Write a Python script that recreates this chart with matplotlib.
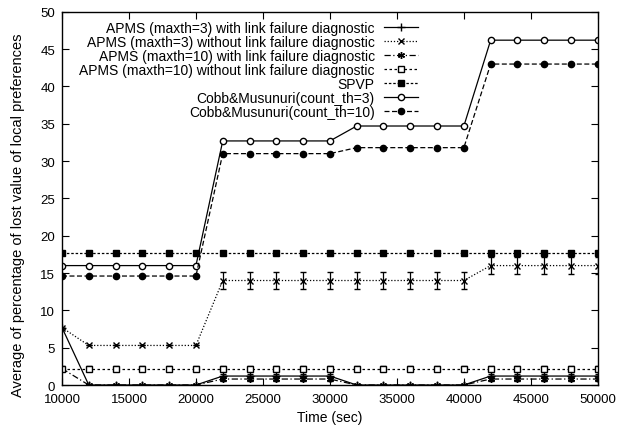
import matplotlib
matplotlib.use("Agg")
from matplotlib import pyplot as plt
from matplotlib.lines import Line2D

plt.rcParams['font.family'] = ['Liberation Sans', 'DejaVu Sans']

# time axis (sec)
times = [10000, 12000, 14000, 16000, 18000, 20000, 22000, 24000, 26000, 28000, 30000,
         32000, 34000, 36000, 38000, 40000, 42000, 44000, 46000, 48000, 50000]

apms3_with = [7.7, 0, 0, 0, 0, 0, 1.2, 1.2, 1.2, 1.2, 1.2,
              0, 0, 0, 0, 0, 1.2, 1.2, 1.2, 1.2, 1.2]
apms3_with_err = [0, 0, 0, 0, 0, 0, 0.3, 0.3, 0.3, 0.3, 0.3,
                  0, 0, 0, 0, 0, 0.3, 0.3, 0.3, 0.3, 0.3]
apms3_without = [7.7, 5.3, 5.3, 5.3, 5.3, 5.3, 14.0, 14.0, 14.0, 14.0, 14.0,
                 14.0, 14.0, 14.0, 14.0, 14.0, 16.0, 16.0, 16.0, 16.0, 16.0]
apms3_without_err = [0, 0, 0, 0, 0, 0, 1.1, 1.1, 1.1, 1.1, 1.1,
                     1.1, 1.1, 1.1, 1.1, 1.1, 1.1, 1.1, 1.1, 1.1, 1.1]
apms10_with = [2.2, 0, 0, 0, 0, 0, 0.8, 0.8, 0.8, 0.8, 0.8,
               0, 0, 0, 0, 0, 0.8, 0.8, 0.8, 0.8, 0.8]
apms10_with_err = [0, 0, 0, 0, 0, 0, 0.3, 0.3, 0.3, 0.3, 0.3,
                   0, 0, 0, 0, 0, 0.3, 0.3, 0.3, 0.3, 0.3]
apms10_without = [2.2] * 21
apms10_without_err = [0.3] * 21
spvp = [17.7] * 21
cobb3 = [16.0, 16.0, 16.0, 16.0, 16.0, 16.0, 32.7, 32.7, 32.7, 32.7, 32.7,
         34.7, 34.7, 34.7, 34.7, 34.7, 46.2, 46.2, 46.2, 46.2, 46.2]
cobb10 = [14.6, 14.6, 14.6, 14.6, 14.6, 14.6, 31.0, 31.0, 31.0, 31.0, 31.0,
          31.8, 31.8, 31.8, 31.8, 31.8, 43.0, 43.0, 43.0, 43.0, 43.0]

labels = ["APMS (maxth=3) with link failure diagnostic",
          "APMS (maxth=3) without link failure diagnostic",
          "APMS (maxth=10) with link failure diagnostic",
          "APMS (maxth=10) without link failure diagnostic",
          "SPVP",
          "Cobb&Musunuri(count_th=3)",
          "Cobb&Musunuri(count_th=10)"]

fig = plt.figure(figsize=(6.26, 4.27), dpi=100)
ax = fig.add_axes([0.099, 0.096, 0.856, 0.874])

lw = 0.9
# (y, err, linestyle, marker, size, facecolor)
series = [
    (apms3_with, apms3_with_err, '-', '+', 6, 'black'),
    (apms3_without, apms3_without_err, (0, (1, 1.5)), 'x', 4.5, 'black'),
    (apms10_with, apms10_with_err, (0, (5, 2, 1, 2)), (6, 2, 0), 5, 'black'),
    (apms10_without, apms10_without_err, (0, (2, 2)), 's', 4.5, 'white'),
    (spvp, None, (0, (2, 1.5)), 's', 5, 'black'),
    (cobb3, None, '-', 'o', 4.5, 'white'),
    (cobb10, None, (0, (4, 2)), 'o', 4.5, 'black'),
]

handles = []
for (ys, err, ls, mk, ms, fc), lab in zip(series, labels):
    if err is not None:
        ax.errorbar(times, ys, yerr=err, color='black', lw=lw, ls=ls, marker=mk, ms=ms,
                    mfc=fc, capsize=2, elinewidth=lw)
    else:
        ax.plot(times, ys, color='black', lw=lw, ls=ls, marker=mk, ms=ms, mfc=fc)
    handles.append(Line2D([], [], color='black', lw=lw, ls=ls, marker=mk, ms=ms, mfc=fc, label=lab))

ax.set_xlim(10000, 50000)
ax.set_ylim(0, 50)
ax.set_xticks(range(10000, 50001, 5000))
ax.set_yticks(range(0, 51, 5))
ax.tick_params(direction='in', top=True, right=True, labelsize=9.5, length=5)
ax.tick_params(axis='x', pad=6)
ax.tick_params(axis='y', pad=5)
for s in ax.spines.values():
    s.set_linewidth(1.0)

ax.set_xlabel("Time (sec)", fontsize=10, labelpad=3)
ax.set_ylabel("Average of percentage of lost value of local preferences", fontsize=10.5)
ax.yaxis.set_label_coords(-0.069, 0.458)

ax.legend(handles=handles, loc='upper right', bbox_to_anchor=(0.664, 0.975), frameon=False,
          markerfirst=False, fontsize=10, handlelength=2.4, labelspacing=0.0,
          borderaxespad=0, borderpad=0, handletextpad=0.7)

fig.savefig("out.png", dpi=100)
